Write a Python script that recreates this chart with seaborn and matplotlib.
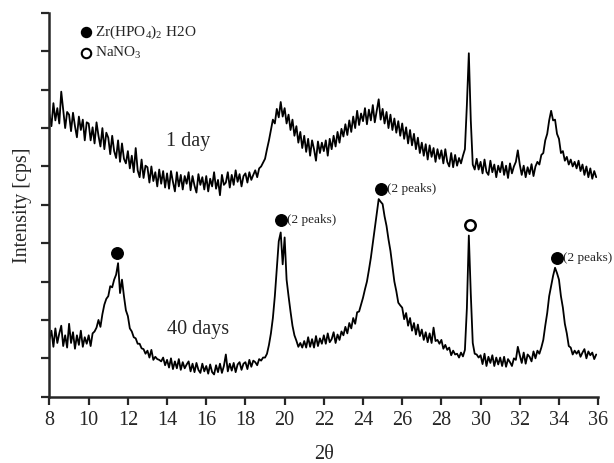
import numpy as np
import pandas as pd
import matplotlib
matplotlib.use("Agg")
import matplotlib.pyplot as plt
import seaborn as sns

# 2-theta grid (degrees), 0.1 deg step, 8.0 .. 35.9
two_theta = np.round(np.arange(8.0, 36.0, 0.1), 1)

# Intensity (arbitrary units, axis 0..1000)
day1 = [
    735, 705, 765, 720, 752, 712, 795, 748, 700, 742,   # 8
    735, 692, 740, 705, 676, 730, 695, 722, 668, 715,   # 9
    712, 668, 702, 660, 715, 680, 652, 700, 645, 688,   # 10
    675, 632, 680, 640, 622, 668, 612, 660, 620, 608,   # 11
    640, 595, 628, 585, 648, 590, 572, 618, 570, 602,   # 12
    598, 558, 600, 562, 585, 548, 592, 555, 588, 545,   # 13
    582, 542, 588, 560, 535, 585, 548, 578, 540, 575,   # 14
    555, 585, 538, 575, 550, 532, 580, 552, 572, 540,   # 15
    575, 535, 568, 548, 585, 542, 565, 525, 578, 552,   # 16
    558, 585, 545, 578, 552, 590, 560, 580, 548, 575,   # 17
    582, 558, 585, 565, 578, 590, 572, 595, 600, 610,   # 18
    620, 645, 668, 695, 722, 712, 750, 728, 768, 730,   # 19
    752, 712, 735, 695, 722, 680, 705, 662, 690, 648,   # 20
    680, 638, 672, 628, 668, 645, 615, 665, 635, 662,   # 21
    640, 668, 628, 672, 645, 680, 652, 690, 662, 698,   # 22
    678, 710, 682, 720, 690, 730, 700, 745, 708, 738,   # 23
    718, 752, 710, 748, 720, 760, 715, 745, 775, 722,   # 24
    750, 712, 742, 700, 735, 695, 725, 688, 718, 680,   # 25
    712, 672, 702, 660, 695, 655, 685, 645, 675, 635,   # 26
    662, 628, 658, 618, 655, 625, 648, 612, 645, 620,   # 27
    642, 608, 645, 612, 600, 635, 598, 630, 602, 622,   # 28
    608, 628, 645, 760, 895, 720, 605, 592, 620, 592,   # 29
    612, 582, 618, 586, 578, 615, 585, 605, 572, 602,   # 30
    585, 612, 578, 602, 570, 608, 582, 600, 612, 642,   # 31
    605, 578, 602, 572, 598, 580, 606, 575, 600, 612,   # 32
    605, 630, 635, 668, 685, 720, 745, 720, 722, 685,   # 33
    672, 635, 640, 615, 625, 605, 618, 600, 612, 595,   # 34
    615, 588, 605, 578, 600, 572, 595, 568, 588, 572,   # 35
]

days40 = [
    150, 172, 130, 178, 140, 165, 185, 132, 160, 128,   # 8
    190, 140, 168, 125, 160, 135, 172, 130, 155, 138,   # 9
    160, 132, 165, 170, 180, 200, 182, 215, 240, 255,   # 10
    262, 288, 285, 305, 318, 348, 270, 305, 262, 225,   # 11
    210, 178, 170, 155, 152, 138, 138, 126, 124, 112,   # 12
    120, 102, 122, 96, 104, 98, 96, 92, 102, 82,        # 13
    96, 76, 100, 72, 92, 74, 98, 70, 90, 74,            # 14
    84, 92, 66, 86, 64, 88, 70, 62, 86, 66,             # 15
    80, 60, 84, 64, 58, 82, 64, 86, 62, 80,             # 16
    110, 66, 86, 68, 88, 64, 84, 90, 70, 86,            # 17
    90, 72, 96, 78, 94, 90, 82, 98, 94, 102,            # 18
    102, 112, 135, 165, 205, 262, 332, 405, 428, 345,   # 19
    415, 305, 262, 222, 185, 160, 146, 130, 140, 128,   # 20
    145, 128, 155, 130, 150, 128, 158, 132, 152, 138,   # 21
    160, 138, 165, 142, 150, 168, 140, 162, 148, 170,   # 22
    160, 182, 165, 192, 178, 205, 190, 220, 222, 240,   # 23
    258, 280, 300, 330, 362, 400, 440, 475, 515, 508,   # 24
    502, 470, 445, 410, 380, 340, 300, 275, 245, 238,   # 25
    232, 202, 218, 185, 205, 172, 192, 162, 188, 158,   # 26
    175, 148, 168, 142, 165, 140, 180, 145, 148, 138,   # 27
    148, 125, 135, 122, 128, 108, 120, 110, 112, 102,   # 28
    115, 105, 122, 230, 420, 268, 140, 112, 110, 102,   # 29
    108, 85, 112, 80, 104, 88, 108, 80, 102, 84,        # 30
    102, 80, 104, 78, 98, 90, 80, 100, 96, 130,         # 31
    108, 88, 115, 86, 110, 104, 92, 118, 100, 120,      # 32
    112, 128, 148, 185, 218, 262, 288, 315, 336, 322,   # 33
    305, 262, 232, 190, 165, 132, 128, 110, 120, 112,   # 34
    120, 104, 115, 124, 100, 118, 108, 115, 98, 110,    # 35
]

series_names = ["1 day", "40 days"]
x_ticks = list(range(8, 37, 2))
y_ticks = list(range(0, 1001, 100))

# peak markers: (2theta, intensity, filled?, note)
peak_x = [11.45, 19.82, 24.92, 29.46, 33.90]
peak_y = [374, 460, 541, 447, 361]
peak_filled = [True, True, True, False, True]
peak_note = ["", "(2 peaks)", "(2 peaks)", "", "(2 peaks)"]

legend_labels = ["Zr(HPO$_4$)$_2$ H2O", "NaNO$_3$"]

df = pd.concat([
    pd.DataFrame({"2theta": two_theta, "I": day1, "sample": series_names[0]}),
    pd.DataFrame({"2theta": two_theta, "I": days40, "sample": series_names[1]}),
])

sns.set_style("ticks")
plt.rcParams["font.family"] = ["Liberation Serif", "DejaVu Serif"]
plt.rcParams["mathtext.fontset"] = "custom"
plt.rcParams["mathtext.rm"] = "Liberation Serif"
plt.rcParams["mathtext.it"] = "Liberation Serif:italic"

fig = plt.figure(figsize=(6.14, 4.63), dpi=100)
ax = fig.add_axes([0.0806, 0.1432, 0.8936, 0.8288])

sns.lineplot(data=df, x="2theta", y="I", hue="sample", units="sample",
             estimator=None, palette=["black", "black"], linewidth=1.3,
             legend=False, ax=ax, sort=False)

ax.set_xlim(8, 36)
ax.set_ylim(0, 1000)
ax.set_xticks(x_ticks)
ax.set_yticks(y_ticks)
ax.set_yticklabels([])
ax.tick_params(axis="x", labelsize=14.5, length=6, width=1.6, pad=4)
ax.tick_params(axis="y", length=6, width=1.6)
for s in ["top", "right"]:
    ax.spines[s].set_visible(False)
for s in ["left", "bottom"]:
    ax.spines[s].set_linewidth(1.8)
ax.spines["left"].set_bounds(0, 1000)

ax.set_xlabel("2θ", fontsize=14.5, labelpad=11)
ax.set_ylabel("Intensity [cps]", fontsize=14.5, labelpad=3)

# series labels
ax.text(15.07, 666, series_names[0], fontsize=14.5, ha="center", va="center")
ax.text(15.58, 174, series_names[1], fontsize=14.5, ha="center", va="center")

# peak markers
for px, py, filled, note in zip(peak_x, peak_y, peak_filled, peak_note):
    if filled:
        ax.plot([px], [py], "o", color="black", ms=8.3, zorder=5)
    else:
        ax.plot([px], [py], "o", mfc="white", mec="black", mew=1.8, ms=7.5, zorder=5)
    if note:
        ax.annotate(note, (px, py), xytext=(6, 0), textcoords="offset pixels",
                    fontsize=9.5, va="center", ha="left")

# legend (drawn as text)
ax.plot([9.86], [950], "o", color="black", ms=7.2)
ax.text(10.30, 950, legend_labels[0], fontsize=11, va="center", ha="left")
ax.plot([9.86], [896], "o", mfc="white", mec="black", mew=1.5, ms=6.8)
ax.text(10.30, 896, legend_labels[1], fontsize=11, va="center", ha="left")

fig.savefig("out.png", dpi=100)
